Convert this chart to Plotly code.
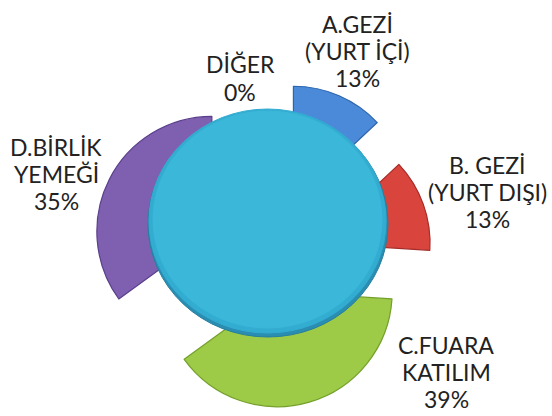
import math
import plotly.graph_objects as go

# ---- data ----
categories = ["A.GEZİ\n(YURT İÇİ)", "B. GEZİ\n(YURT DIŞI)", "C.FUARA\nKATILIM", "D.BİRLİK\nYEMEĞİ", "DİĞER"]
values = [13, 13, 39, 35, 0]

# ---- styling ----
slice_colors = ["#4A8AD8", "#D9443D", "#9DCB47", "#7F5FB0", "#38B6D8"]
edge_colors = ["#2E66AE", "#A52C28", "#739F2A", "#5A3F8C", "#2A8FB0"]
explode_px = [64, 50, 33, 63, 0]   # per-slice explosion distance (pixels)

W, H = 552, 416
cx, cy, R = 268, 260, 115
total = sum(values)
transparent = "rgba(0,0,0,0)"

fig = go.Figure()
cum = 0
for i, v in enumerate(values):
    theta = 2 * math.pi * (cum + v / 2) / total
    cum += v
    if v == 0:
        continue
    ax = cx + explode_px[i] * math.sin(theta)
    ay = cy - explode_px[i] * math.cos(theta)
    cols = [slice_colors[i] if j == i else transparent for j in range(len(values))]
    lcols = [edge_colors[i] if j == i else transparent for j in range(len(values))]
    fig.add_trace(go.Pie(
        labels=[c.replace("\n", " ") for c in categories],
        values=values,
        sort=False,
        direction="clockwise",
        rotation=0,
        marker=dict(colors=cols, line=dict(color=lcols, width=1.2)),
        textinfo="none",
        hoverinfo="skip",
        domain=dict(x=[(ax - R) / W, (ax + R) / W],
                    y=[1 - (ay + R) / H, 1 - (ay - R) / H]),
        showlegend=False,
    ))

# central disc (drawn over the exploded pie)
def px_circle(x0, y0, x1, y1, fill, line=None):
    return dict(type="circle", xref="paper", yref="paper", layer="above",
                x0=x0 / W, x1=x1 / W, y0=1 - y1 / H, y1=1 - y0 / H,
                fillcolor=fill, line=dict(color=line or fill, width=1))

shapes = [
    px_circle(148, 111, 388, 337, "#2A8DB2", "#26809F"),
    px_circle(149, 109, 386, 333, "#33ACD1"),
    px_circle(153, 111, 382, 328, "#3AB7D9"),
]

# labels
label_centers = [(357, 51), (487, 192), (446, 372), (56, 174), (240, 78)]
pitch = 27
annotations = []
for cat, v, (lx, ly) in zip(categories, values, label_centers):
    lines = cat.split("\n") + [f"{round(v / total * 100)}%"]
    n = len(lines)
    for i, t in enumerate(lines):
        yy = ly + (i - (n - 1) / 2) * pitch
        annotations.append(dict(
            x=lx / W, y=1 - yy / H, xref="paper", yref="paper",
            text=t, showarrow=False, xanchor="center", yanchor="middle",
            font=dict(family="Lato, Open Sans, sans-serif", size=23, color="#222222"),
        ))

fig.update_layout(
    width=W, height=H,
    margin=dict(l=0, r=0, t=0, b=0),
    paper_bgcolor="white", plot_bgcolor="white",
    showlegend=False,
    shapes=shapes,
    annotations=annotations,
)

fig.write_html("out.html", config={"displayModeBar": False},
               post_script="document.body.style.margin='0';document.body.style.overflow='hidden';")
